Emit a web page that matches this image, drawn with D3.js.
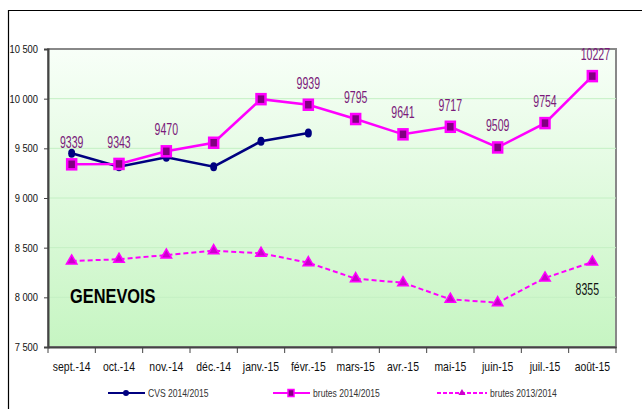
<!DOCTYPE html>
<html>
<head>
<meta charset="utf-8">
<script src="https://cdn.jsdelivr.net/npm/d3@7"></script>
<style>
	body { margin: 0; background: #fff; }
	svg { display: block; }
	text { font-family: "Liberation Sans", Arial, sans-serif; }
</style>
</head>
<body>
<script>
const months = ["sept.-14", "oct.-14", "nov.-14", "déc.-14", "janv.-15", "févr.-15",
	"mars-15", "avr.-15", "mai-15", "juin-15", "juil.-15", "août-15"];

const cvs1415    = [9450, 9315, 9410, 9315, 9571, 9654];
const brutes1415 = [9339, 9343, 9470, 9556, 9995, 9939, 9795, 9641, 9717, 9509, 9754, 10227];
const brutes1314 = [8366, 8383, 8426, 8470, 8443, 8349, 8188, 8147, 7980, 7946, 8195, 8355];

// which points carry a value label
const labels1415 = [0, 1, 2, 5, 6, 7, 8, 9, 10, 11];
const labels1314 = [11];

const yTicks = [7500, 8000, 8500, 9000, 9500, 10000, 10500];

const width = 642, height = 409;
const margins = { left: 48, top: 49, right: 26, bottom: 62 };

// no narrow font installed: squeeze text horizontally instead
const squeeze = (sel, sx) => sel.each(function() {
	const t = d3.select(this);
	const x0 = +t.attr("x") || 0, y0 = +t.attr("y") || 0;
	t.attr("transform", "translate(" + x0 + "," + y0 + ") scale(" + sx + ",1)")
		.attr("x", 0)
		.attr("y", 0);
});

const svg = d3.select("body").append("svg")
	.attr("width", width)
	.attr("height", height);

// outer frame
svg.append("path")
	.attr("d", "M8.5," + height + "V10.5H" + width)
	.attr("fill", "none")
	.attr("stroke", "#000")
	.attr("stroke-width", 1.2);

const x = d3.scaleBand()
	.domain(months)
	.range([margins.left, width - margins.right]);

const y = d3.scaleLinear()
	.domain([7500, 10500])
	.range([height - margins.bottom, margins.top]);

const xc = d => x(d) + x.bandwidth() / 2;

// plot background gradient
const defs = svg.append("defs");
const grad = defs.append("linearGradient")
	.attr("id", "bg")
	.attr("x1", 0).attr("y1", 0).attr("x2", 0).attr("y2", 1);
grad.append("stop").attr("offset", "0%").attr("stop-color", "#f8fff8");
grad.append("stop").attr("offset", "100%").attr("stop-color", "#c6f5c2");

const plotW = width - margins.left - margins.right;
const plotH = height - margins.top - margins.bottom;

svg.append("rect")
	.attr("x", margins.left)
	.attr("y", margins.top)
	.attr("width", plotW)
	.attr("height", plotH)
	.attr("fill", "url(#bg)")
	.attr("stroke", "#888")
	.attr("stroke-width", 2);

// grid
svg.append("g")
	.selectAll("line")
	.data(yTicks.slice(1, -1))
	.join("line")
	.attr("x1", margins.left)
	.attr("x2", width - margins.right)
	.attr("y1", d => y(d))
	.attr("y2", d => y(d))
	.attr("stroke", "#c4f0c4")
	.attr("stroke-width", 1);

// y axis
const yAxis = svg.append("g")
	.attr("transform", "translate(" + margins.left + ",0)")
	.call(d3.axisLeft(y)
		.tickValues(yTicks)
		.tickSize(4)
		.tickPadding(6)
		.tickFormat(d => d3.format(",")(d).replace(",", " ")));
yAxis.select(".domain").attr("stroke", "#444").attr("stroke-width", 2);
yAxis.selectAll(".tick line").attr("stroke", "#444");
yAxis.selectAll("text")
	.attr("font-size", 11)
	.attr("fill", "#111")
	.call(squeeze, 0.85);

// x axis, ticks at category boundaries
const xAxis = svg.append("g")
	.attr("transform", "translate(0," + (height - margins.bottom) + ")")
	.call(d3.axisBottom(x).tickSize(0).tickPadding(15));
xAxis.select(".domain").attr("stroke", "#444").attr("stroke-width", 2);
xAxis.selectAll("text")
	.attr("font-size", 12)
	.attr("fill", "#111")
	.call(squeeze, 0.87);

svg.append("g")
	.selectAll("line")
	.data(months.concat([null]))
	.join("line")
	.attr("x1", (d, i) => margins.left + i * x.bandwidth())
	.attr("x2", (d, i) => margins.left + i * x.bandwidth())
	.attr("y1", height - margins.bottom)
	.attr("y2", height - margins.bottom + 6)
	.attr("stroke", "#444");

const line = d3.line()
	.x((d, i) => xc(months[i]))
	.y(d => y(d));

// brutes 2013/2014 (dashed, triangles)
svg.append("path")
	.attr("d", line(brutes1314))
	.attr("fill", "none")
	.attr("stroke", "#ff00ff")
	.attr("stroke-width", 2)
	.attr("stroke-dasharray", "5,3");

const tri = d3.symbol().type(d3.symbolTriangle).size(48);
svg.append("g")
	.selectAll("path")
	.data(brutes1314)
	.join("path")
	.attr("d", tri)
	.attr("transform", (d, i) => "translate(" + xc(months[i]) + "," + y(d) + ")")
	.attr("fill", "#cc00cc")
	.attr("stroke", "#ff00ff")
	.attr("stroke-width", 1.5);

// CVS 2014/2015
svg.append("path")
	.attr("d", line(cvs1415))
	.attr("fill", "none")
	.attr("stroke", "#000080")
	.attr("stroke-width", 2.5);

svg.append("g")
	.selectAll("ellipse")
	.data(cvs1415)
	.join("ellipse")
	.attr("cx", (d, i) => xc(months[i]))
	.attr("cy", d => y(d))
	.attr("rx", 3.5)
	.attr("ry", 4.5)
	.attr("fill", "#000080");

// brutes 2014/2015
svg.append("path")
	.attr("d", line(brutes1415))
	.attr("fill", "none")
	.attr("stroke", "#ff00ff")
	.attr("stroke-width", 2.5);

svg.append("g")
	.selectAll("rect")
	.data(brutes1415)
	.join("rect")
	.attr("x", (d, i) => xc(months[i]) - 4.5)
	.attr("y", d => y(d) - 5)
	.attr("width", 9)
	.attr("height", 10)
	.attr("fill", "#800080")
	.attr("stroke", "#ff00ff")
	.attr("stroke-width", 2.5);

// value labels
svg.append("g")
	.selectAll("text")
	.data(labels1415)
	.join("text")
	.attr("x", i => xc(months[i]) + (i == 11 ? 3 : 0))
	.attr("y", i => y(brutes1415[i]) - 16)
	.attr("text-anchor", "middle")
	.attr("font-size", 16)
	.attr("fill", "#7a1a7a")
	.text(i => brutes1415[i])
	.call(squeeze, 0.66);

svg.append("g")
	.selectAll("text")
	.data(labels1314)
	.join("text")
	.attr("x", i => xc(months[i]) - 5)
	.attr("y", i => y(brutes1314[i]) + 33)
	.attr("text-anchor", "middle")
	.attr("font-size", 16)
	.attr("fill", "#111")
	.text(i => brutes1314[i])
	.call(squeeze, 0.66);

// title
svg.append("text")
	.attr("x", 70)
	.attr("y", 303)
	.attr("font-size", 21)
	.attr("font-weight", "bold")
	.attr("fill", "#000")
	.text("GENEVOIS")
	.call(squeeze, 0.78);

// legend
const legend = [
	{ name: "CVS 2014/2015", x: 108, color: "#000080", dash: null, mark: "circle" },
	{ name: "brutes 2014/2015", x: 273, color: "#ff00ff", dash: null, mark: "square" },
	{ name: "brutes 2013/2014", x: 437, color: "#ff00ff", dash: "4,2", mark: "triangle" },
];
const ly = 393;
const lg = svg.append("g")
	.selectAll("g")
	.data(legend)
	.join("g")
	.attr("transform", d => "translate(" + d.x + "," + ly + ")");
lg.append("line")
	.attr("x1", 0).attr("x2", d => d.mark == "triangle" ? 50 : 37)
	.attr("stroke", d => d.color)
	.attr("stroke-width", 2)
	.attr("stroke-dasharray", d => d.dash);
lg.filter(d => d.mark == "circle").append("circle")
	.attr("cx", 18).attr("r", 3).attr("fill", "#000080");
lg.filter(d => d.mark == "square").append("rect")
	.attr("x", 15).attr("y", -3.5).attr("width", 6).attr("height", 7)
	.attr("fill", "#800080").attr("stroke", "#ff00ff").attr("stroke-width", 1.5);
lg.filter(d => d.mark == "triangle").append("path")
	.attr("d", d3.symbol().type(d3.symbolTriangle).size(22))
	.attr("transform", "translate(25,0)")
	.attr("fill", "#cc00cc");
lg.append("text")
	.attr("x", d => d.mark == "triangle" ? 53 : 40)
	.attr("dy", "0.35em")
	.attr("font-size", 11)
	.attr("fill", "#333")
	.text(d => d.name)
	.call(squeeze, 0.78);
</script>
</body>
</html>
